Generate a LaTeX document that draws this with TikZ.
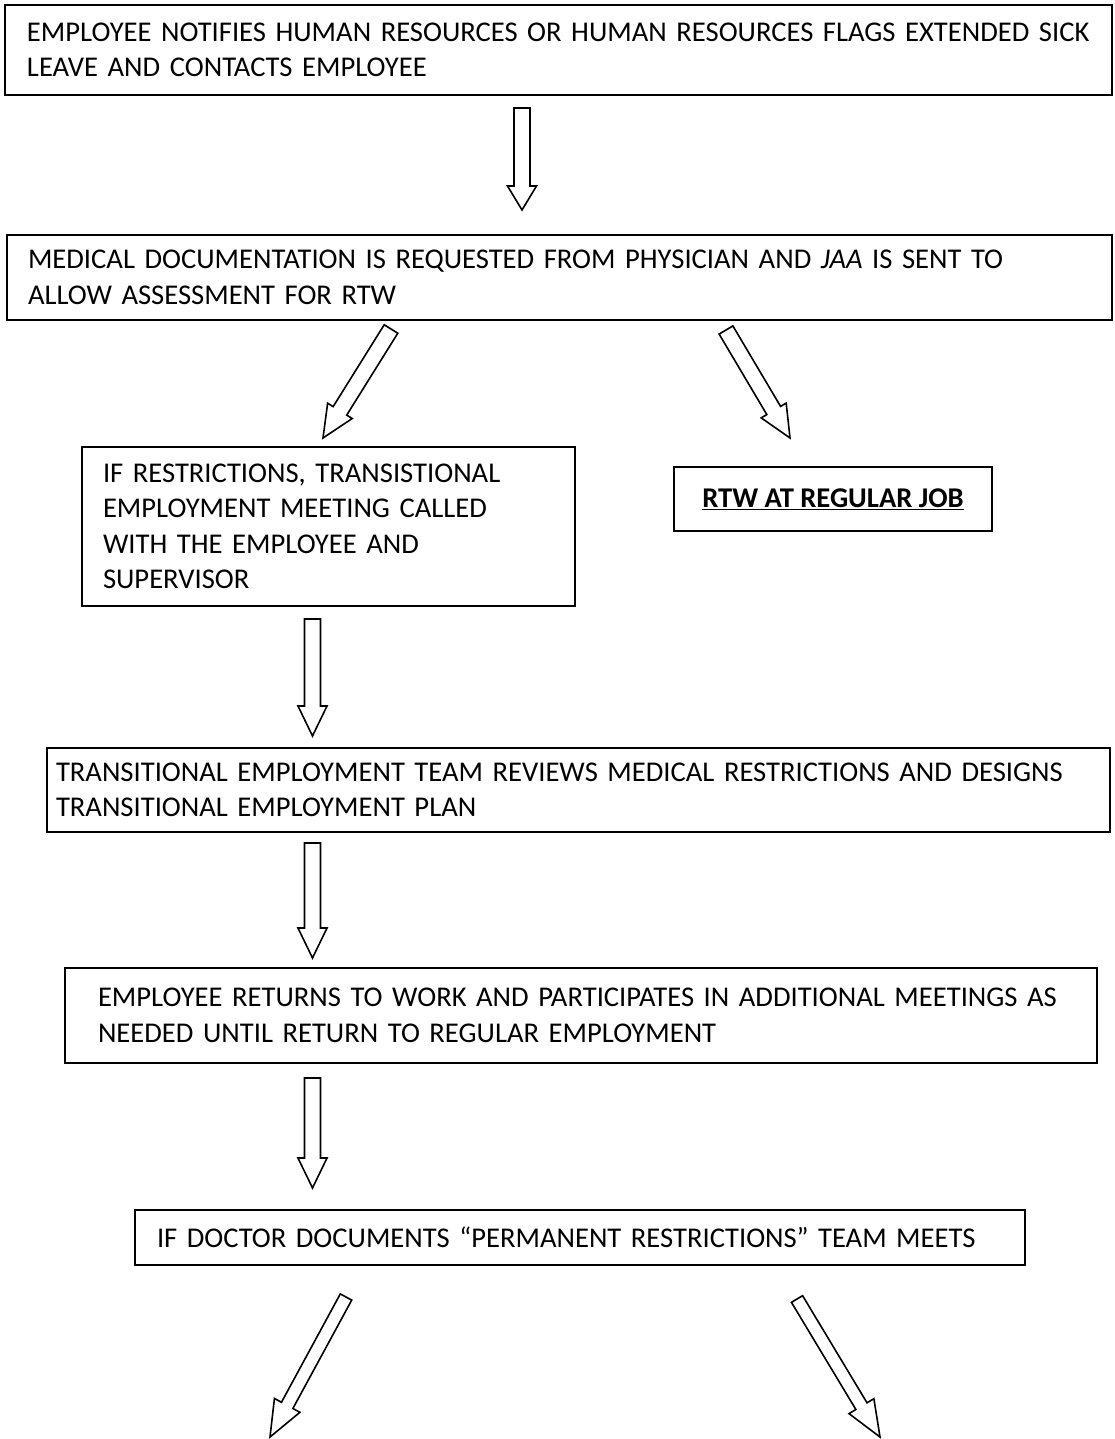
\documentclass[tikz,border=0pt]{standalone}
\usepackage{fontspec}
\setmainfont{Carlito}
\usetikzlibrary{calc}
\tikzset{
  box/.style = {draw, rectangle, line width=2pt, inner ysep=0pt,
                align=left, font=\fontsize{28.6}{35.5}\selectfont},
  blockarrow/.style = {draw, line width=1.6pt, line join=miter, fill=white}
}
% hollow block arrow: #1 head length, #2 start, #3 tip
\newcommand{\blockarrow}[3][26]{%
  \coordinate (ba-base) at ($(#3)!#1pt!(#2)$);
  \draw[blockarrow] ($(#2)!\shaftw!90:(#3)$) -- ($(ba-base)!\shaftw!90:(#3)$)
    -- ($(ba-base)!\headw!90:(#3)$) -- (#3) -- ($(ba-base)!\headw!-90:(#3)$)
    -- ($(ba-base)!\shaftw!-90:(#3)$) -- ($(#2)!\shaftw!-90:(#3)$) -- cycle;}

\begin{document}
\begin{tikzpicture}[x=1pt, y=-1pt]
	\def\shaftw{8pt}
	\def\headw{14.5pt}
	\useasboundingbox (0,0) rectangle (1114,1439);

	% Boxes
	\node[box, minimum width=1107pt, minimum height=90pt, inner xsep=22pt, text width=1063pt] (notify) at (558.5,50)
		{EMPLOYEE NOTIFIES HUMAN RESOURCES OR HUMAN RESOURCES FLAGS EXTENDED SICK\\ LEAVE AND CONTACTS EMPLOYEE};
	\node[box, minimum width=1105pt, minimum height=85pt, inner xsep=21pt, text width=1063pt] (request) at (559.5,277.5)
		{MEDICAL DOCUMENTATION IS REQUESTED FROM PHYSICIAN AND \textit{JAA} IS SENT TO\\ ALLOW ASSESSMENT FOR RTW};
	\node[box, minimum width=493pt, minimum height=159pt, inner xsep=21pt, text width=451pt] (restrict) at (328.5,526.5)
		{IF RESTRICTIONS, TRANSISTIONAL\\ EMPLOYMENT MEETING CALLED\\ WITH THE EMPLOYEE AND\\ SUPERVISOR};
	\node[box, minimum width=318pt, minimum height=64pt, align=center] (regular) at (833,499)
		{\underline{\textbf{RTW AT REGULAR JOB}}};
	\node[box, minimum width=1063pt, minimum height=84pt, inner xsep=9pt, text width=1045pt] (review) at (578.5,790)
		{TRANSITIONAL EMPLOYMENT TEAM REVIEWS MEDICAL RESTRICTIONS AND DESIGNS\\ TRANSITIONAL EMPLOYMENT PLAN};
	\node[box, minimum width=1032pt, minimum height=95pt, inner xsep=33pt, text width=966pt] (returns) at (581,1015.5)
		{EMPLOYEE RETURNS TO WORK AND PARTICIPATES IN ADDITIONAL MEETINGS AS\\ NEEDED UNTIL RETURN TO REGULAR EMPLOYMENT};
	\node[box, minimum width=890pt, minimum height=55pt, inner xsep=22pt, text width=846pt] (permanent) at (580,1237.5)
		{IF DOCTOR DOCUMENTS “PERMANENT RESTRICTIONS” TEAM MEETS};

	% Arrow ends
	\coordinate (a1-top) at (522,108);   \coordinate (a1-tip) at (522,210);
	\coordinate (a2-top) at (391,329);   \coordinate (a2-tip) at (323,438);
	\coordinate (a3-top) at (726,330);   \coordinate (a3-tip) at (790,438);
	\coordinate (a4-top) at (312.5,619); \coordinate (a4-tip) at (312.5,736);
	\coordinate (a5-top) at (312.5,843); \coordinate (a5-tip) at (312.5,958);
	\coordinate (a6-top) at (312.5,1078);\coordinate (a6-tip) at (312.5,1188);
	\coordinate (a7-top) at (346,1297);  \coordinate (a7-tip) at (270,1437);
	\coordinate (a8-top) at (797,1299);  \coordinate (a8-tip) at (880,1437);

	% Arrows
	\blockarrow[24]{a1-top}{a1-tip}
	\blockarrow[32]{a2-top}{a2-tip}
	\blockarrow[32]{a3-top}{a3-tip}
	\blockarrow[30]{a4-top}{a4-tip}
	\blockarrow[30]{a5-top}{a5-tip}
	\blockarrow[30]{a6-top}{a6-tip}
	\def\shaftw{6.5pt}
	\blockarrow[36]{a7-top}{a7-tip}
	\blockarrow[36]{a8-top}{a8-tip}
\end{tikzpicture}
\end{document}
